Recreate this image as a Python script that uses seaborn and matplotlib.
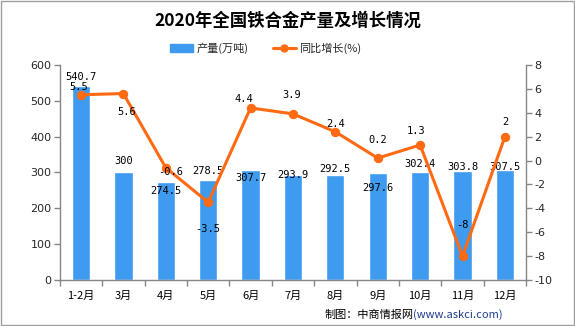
import numpy as np
import pandas as pd
import matplotlib
matplotlib.use("Agg")
import matplotlib.pyplot as plt
import seaborn as sns
from matplotlib.lines import Line2D
from matplotlib.patches import Patch, Rectangle

months = ["1-2月", "3月", "4月", "5月", "6月", "7月", "8月", "9月", "10月", "11月", "12月"]
output = [540.7, 300, 274.5, 278.5, 307.7, 293.9, 292.5, 297.6, 302.4, 303.8, 307.5]
growth = [5.5, 5.6, -0.6, -3.5, 4.4, 3.9, 2.4, 0.2, 1.3, -8, 2]
output_labels = ["540.7", "300", "274.5", "278.5", "307.7", "293.9", "292.5", "297.6", "302.4", "303.8", "307.5"]
growth_labels = ["5.5", "5.6", "-0.6", "-3.5", "4.4", "3.9", "2.4", "0.2", "1.3", "-8", "2"]

# label offsets in pixels (style only)
bar_off = [9, 11, -9, 9, -8, 0, 6, -15, 8, 4, 3]
line_off = [(-2, 8), (3, -18), (5, -4), (0, -27), (-7, 9), (-1, 19), (0, 8), (0, 18), (-4, 14), (0, 31), (0, 15)]

sns.set_theme(style="white")
plt.rcParams['font.family'] = ['Noto Sans CJK SC', 'DejaVu Sans']
plt.rcParams['axes.unicode_minus'] = False

BAR = "#3E9BF0"
LINE = "#FF6A13"
GRAY = "#868686"

fig = plt.figure(figsize=(5.75, 3.26), dpi=100)
ax = fig.add_axes([0.104, 0.141, 0.811, 0.66])

df = pd.DataFrame({"month": months, "output": output, "growth": growth, "pos": np.arange(len(months))})
sns.barplot(data=df, x="month", y="output", color=BAR, width=0.43, saturation=1, ax=ax)
ax.set_ylim(0, 600)
ax.set_yticks(range(0, 601, 100))
ax.set_xlim(-0.5, len(months) - 0.5)
ax.set_xlabel("")
ax.set_ylabel("")

ax2 = ax.twinx()
sns.lineplot(data=df, x="pos", y="growth", color=LINE, linewidth=2.2, marker="o",
             markersize=6, markeredgecolor=LINE, ax=ax2)
ax2.set_ylim(-10, 8)
ax2.set_yticks(range(-10, 9, 2))
ax2.set_ylabel("")
ax2.set_xlim(-0.5, len(months) - 0.5)

for a in (ax, ax2):
    a.spines["top"].set_visible(False)
    for s in ("left", "right", "bottom"):
        a.spines[s].set_color(GRAY)
        a.spines[s].set_linewidth(1)

ax.spines["right"].set_visible(False)
ax2.spines["left"].set_visible(False)
ax2.spines["bottom"].set_visible(False)

ax.set_xticks(np.arange(len(months)))
ax.set_xticklabels(months, fontsize=8, color="black")
ax.set_xticks(np.arange(-0.5, len(months), 1), minor=True)
ax.tick_params(axis="x", which="major", length=0, pad=8)
ax.tick_params(axis="x", which="minor", length=4, color=GRAY, width=1, bottom=True)
ax.tick_params(axis="y", length=4, color=GRAY, width=1, left=True, labelsize=8, pad=2)
ax2.tick_params(axis="y", length=4, color=GRAY, width=1, right=True, labelsize=8, pad=2)
for lab in ax.get_yticklabels() + ax2.get_yticklabels():
    lab.set_fontfamily("DejaVu Sans")

numfont = dict(fontsize=7.5, family="DejaVu Sans Mono", color="black", ha="center", va="center")
for i, (v, t) in enumerate(zip(output, output_labels)):
    ax.annotate(t, (i, v), xytext=(0, bar_off[i]), textcoords="offset pixels", zorder=5, **numfont)
for i, (v, t) in enumerate(zip(growth, growth_labels)):
    dx, dy = line_off[i]
    ax2.annotate(t, (i, v), xytext=(dx, dy), textcoords="offset pixels", zorder=5, **numfont)

fig.text(0.5, 0.936, "2020年全国铁合金产量及增长情况", ha="center", va="center",
         fontsize=12.5, fontweight="bold", color="black")

handles = [Patch(color=BAR),
           Line2D([0], [0], color=LINE, lw=2.2, marker="o", markersize=5)]
fig.legend(handles, ["产量(万吨)", "同比增长(%)"], loc="center", bbox_to_anchor=(0.462, 0.853),
           ncol=2, frameon=False, fontsize=8, handlelength=2.1, handleheight=0.7,
           columnspacing=2.2, handletextpad=0.3)

fig.text(0.565, 0.035, "制图：中商情报网", ha="left", va="center", fontsize=8, color="black")
fig.text(0.718, 0.035, "(www.askci.com)", ha="left", va="center", fontsize=8, color="#1F3C88")

fig.patches.append(Rectangle((0.001, 0.002), 0.997, 0.995, transform=fig.transFigure,
                             fill=False, edgecolor="#A0A0A0", linewidth=1))

fig.savefig("out.png", dpi=100)
